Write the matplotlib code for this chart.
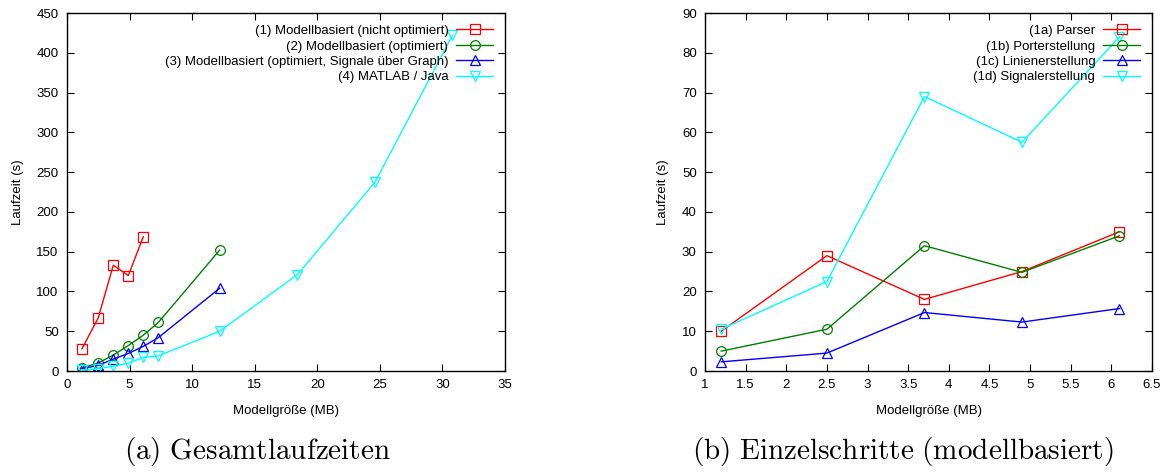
import matplotlib
matplotlib.use("Agg")
import matplotlib.pyplot as plt
from matplotlib.ticker import MultipleLocator

plt.rcParams['font.family'] = ['Liberation Sans', 'DejaVu Sans']
plt.rcParams['mathtext.fontset'] = 'cm'

# ---- data: (a) total run times ----
x_a1 = [1.2, 2.5, 3.7, 4.9, 6.1]
y_a1 = [28, 67, 133, 120, 169]
x_a2 = [1.2, 2.5, 3.7, 4.9, 6.1, 7.3, 12.2]
y_a2 = [4, 10, 20, 32, 45, 61, 152]
x_a3 = [1.2, 2.5, 3.7, 4.9, 6.1, 7.3, 12.2]
y_a3 = [3, 7, 15, 22, 31, 42, 104]
x_a4 = [1.2, 2.5, 3.7, 4.9, 6.1, 7.3, 12.2, 18.4, 24.6, 30.8]
y_a4 = [1, 3, 6, 10, 17, 19, 50, 121, 237, 422]
labels_a = ["(1) Modellbasiert (nicht optimiert)",
            "(2) Modellbasiert (optimiert)",
            "(3) Modellbasiert (optimiert, Signale über Graph)",
            "(4) MATLAB / Java"]

# ---- data: (b) individual steps ----
x_b = [1.2, 2.5, 3.7, 4.9, 6.1]
y_b1 = [10, 29, 18, 25, 35]
y_b2 = [5, 10.5, 31.5, 24.8, 34]
y_b3 = [2.3, 4.5, 14.7, 12.3, 15.7]
y_b4 = [10.5, 22.5, 69, 57.5, 84]
labels_b = ["(1a) Parser", "(1b) Porterstellung",
            "(1c) Linienerstellung", "(1d) Signalerstellung"]

colors = ['#ff0000', '#008000', '#0000ff', '#00ffff']
markers = ['s', 'o', '^', 'v']

W, H = 1164, 472
fig = plt.figure(figsize=(W / 100, H / 100), dpi=100)

def axrect(x0, x1, ytop, ybot):
    return [x0 / W, 1 - ybot / H, (x1 - x0) / W, (ybot - ytop) / H]

ax1 = fig.add_axes(axrect(67, 505, 13, 371))
ax2 = fig.add_axes(axrect(705, 1152, 13, 371))

fs = 9.5

def style(ax):
    ax.tick_params(direction='in', top=True, right=True, length=5, width=0.8,
                   labelsize=fs, pad=6)
    for s in ax.spines.values():
        s.set_linewidth(1.0)

def add_legend(ax):
    ax.legend(loc='upper right', frameon=False, markerfirst=False, fontsize=fs,
              handlelength=2.8, labelspacing=0.24, borderaxespad=0.5,
              borderpad=0.4, handletextpad=0.6)

series_a = [(x_a1, y_a1), (x_a2, y_a2), (x_a3, y_a3), (x_a4, y_a4)]
for (xs, ys), c, m, lab in zip(series_a, colors, markers, labels_a):
    ax1.plot(xs, ys, color=c, marker=m, markersize=7, markerfacecolor='none',
             markeredgecolor=c, markeredgewidth=0.9, linewidth=1.0, label=lab)
ax1.set_xlim(0, 35)
ax1.set_ylim(0, 450)
ax1.xaxis.set_major_locator(MultipleLocator(5))
ax1.yaxis.set_major_locator(MultipleLocator(50))
style(ax1)
ax1.set_xlabel("Modellgröße (MB)", fontsize=fs, labelpad=10)
ax1.set_ylabel("Laufzeit (s)", fontsize=fs, labelpad=9)
add_legend(ax1)

series_b = [y_b1, y_b2, y_b3, y_b4]
for ys, c, m, lab in zip(series_b, colors, markers, labels_b):
    ax2.plot(x_b, ys, color=c, marker=m, markersize=7, markerfacecolor='none',
             markeredgecolor=c, markeredgewidth=0.9, linewidth=1.0, label=lab)
ax2.set_xlim(1, 6.5)
ax2.set_ylim(0, 90)
ax2.xaxis.set_major_locator(MultipleLocator(0.5))
ax2.yaxis.set_major_locator(MultipleLocator(10))
ax2.xaxis.set_major_formatter(matplotlib.ticker.FuncFormatter(lambda v, p: f"{v:g}"))
style(ax2)
ax2.set_xlabel("Modellgröße (MB)", fontsize=fs, labelpad=10)
ax2.set_ylabel("Laufzeit (s)", fontsize=fs, labelpad=9)
add_legend(ax2)

fig.text(257 / W, 1 - 451 / H, r"$\mathrm{(a)\ Gesamtlaufzeiten}$",
         ha='center', va='center', fontsize=21)
fig.text(903 / W, 1 - 451 / H, r"$\mathrm{(b)\ Einzelschritte\ (modellbasiert)}$",
         ha='center', va='center', fontsize=21)

fig.savefig("out.png", dpi=100)
